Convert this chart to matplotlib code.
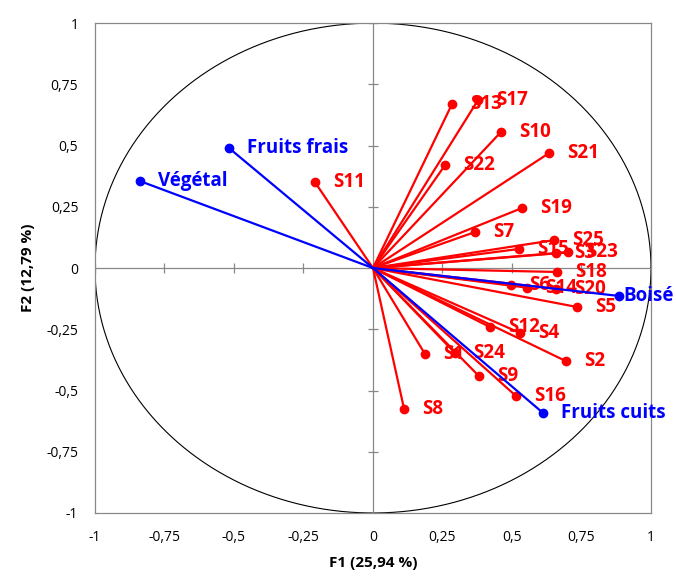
import matplotlib.pyplot as plt
import numpy as np

# correlation circle data (F1, F2)
var_names = ['Végétal', 'Fruits frais', 'Boisé', 'Fruits cuits']
var_f1 = [-0.838, -0.518, 0.885, 0.612]
var_f2 = [0.355, 0.490, -0.114, -0.592]

sample_names = ['S1', 'S2', 'S3', 'S4', 'S5', 'S6', 'S7', 'S8', 'S9', 'S10',
                'S11', 'S12', 'S13', 'S14', 'S15', 'S16', 'S17', 'S18', 'S19',
                'S20', 'S21', 'S22', 'S23', 'S24', 'S25']
sample_f1 = [0.187, 0.694, 0.660, 0.529, 0.734, 0.496, 0.367, 0.112, 0.381, 0.460,
             -0.209, 0.421, 0.284, 0.554, 0.525, 0.514, 0.378, 0.662, 0.536,
             0.660, 0.633, 0.259, 0.701, 0.295, 0.651]
sample_f2 = [-0.351, -0.380, 0.060, -0.265, -0.159, -0.069, 0.147, -0.576, -0.441, 0.555,
             0.351, -0.241, 0.669, -0.080, 0.078, -0.522, 0.686, -0.016, 0.245,
             -0.085, 0.469, 0.420, 0.065, -0.347, 0.114]

ticks = [-1, -0.75, -0.5, -0.25, 0, 0.25, 0.5, 0.75, 1]
tick_labels = ['-1', '-0,75', '-0,5', '-0,25', '0', '0,25', '0,5', '0,75', '1']

plt.rcParams['font.family'] = ['Open Sans', 'DejaVu Sans']

fig = plt.figure(figsize=(6.76, 5.78), dpi=100)
ax = fig.add_axes([0.1405, 0.1125, 0.8225, 0.8475])

# unit circle
t = np.linspace(0, 2 * np.pi, 400)
ax.plot(np.cos(t), np.sin(t), color='black', lw=0.8, zorder=1)

# center axes with tick marks
ax.axhline(0, color='#888888', lw=0.9, zorder=1)
ax.axvline(0, color='#888888', lw=0.9, zorder=1)
tk = [v for v in ticks if v != 0]
ax.plot(tk, [0] * len(tk), ls='none', marker='|', ms=7, color='#888888', mew=0.9, zorder=1)
ax.plot([0] * len(tk), tk, ls='none', marker='_', ms=7, color='#888888', mew=0.9, zorder=1)

# samples
for name, x, y in zip(sample_names, sample_f1, sample_f2):
    ax.plot([0, x], [0, y], color='red', lw=1.6, zorder=2)
    ax.plot(x, y, 'o', color='red', ms=6, zorder=3)
    ax.annotate(name, (x, y), xytext=(13, 0), textcoords='offset points',
                color='red', fontsize=13.5, fontweight='bold', va='center')

# variables
for name, x, y in zip(var_names, var_f1, var_f2):
    ax.plot([0, x], [0, y], color='blue', lw=1.6, zorder=4)
    ax.plot(x, y, 'o', color='blue', ms=6, zorder=5)
    ax.annotate(name, (x, y), xytext=(13 if name != 'Boisé' else 3, 0), textcoords='offset points',
                color='blue', fontsize=13.5, fontweight='bold', va='center')

ax.set_xlim(-1, 1)
ax.set_ylim(-1, 1)
ax.set_xticks(ticks)
ax.set_xticklabels(tick_labels)
ax.set_yticks(ticks)
ax.set_yticklabels(tick_labels)
ax.tick_params(length=0, labelsize=10, pad=12)
for s in ax.spines.values():
    s.set_color('#888888')
    s.set_linewidth(0.9)

ax.set_xlabel('F1 (25,94 %)', fontsize=11, fontweight='bold', labelpad=8)
ax.set_ylabel('F2 (12,79 %)', fontsize=11, fontweight='bold', labelpad=8)

plt.savefig('out.png', dpi=100)
plt.close()
